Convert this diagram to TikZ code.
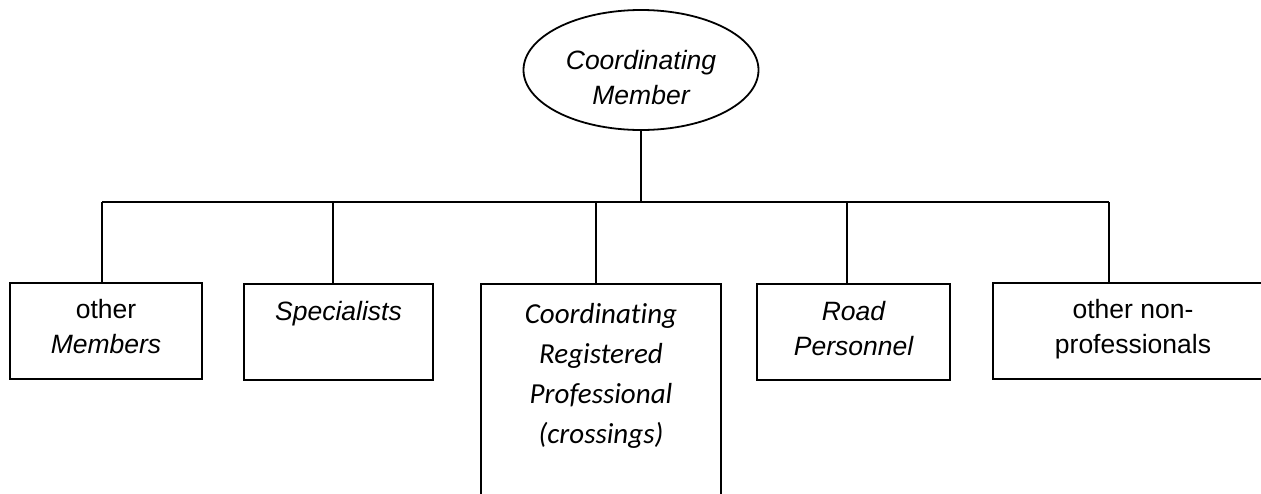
\documentclass[tikz,border=0pt]{standalone}
\usepackage{fontspec}
\setmainfont{Liberation Sans}
\newfontfamily\calfont[Ligatures={NoCommon}]{Carlito}
\usetikzlibrary{shapes.geometric,calc}
\begin{document}
\begin{tikzpicture}[x=1pt,y=-1pt,
  line/.style={line width=1.8pt},
  box/.style={draw, line width=1.8pt, inner sep=0pt, outer sep=0pt, anchor=north west},
  lbl/.style={anchor=north, inner sep=0pt, align=center, font=\fontsize{26.5}{35}\selectfont},
  cal/.style={anchor=north, inner sep=0pt, align=center, font=\calfont\fontsize{29}{40}\selectfont}]
\useasboundingbox (0,0) rectangle (1261,493);
% top ellipse
\node[draw, ellipse, line width=1.8pt, inner sep=0pt, minimum width=235, minimum height=120] (cm) at (641,70) {};
\node[lbl] (cmt) at (641,44.5) {\strut\itshape Coordinating\\\itshape Member};
% boxes
\node[box, minimum width=192, minimum height=96] (b1) at (10,283) {};
\node[box, minimum width=189, minimum height=96] (b2) at (244,284) {};
\node[box, minimum width=240, minimum height=240] (b3) at (481,284) {};
\node[box, minimum width=193, minimum height=96] (b4) at (757,284) {};
\node[box, minimum width=280, minimum height=96] (b5) at (993,283) {};
% labels
\node[lbl] (t1) at (106,294) {\strut other\\\itshape Members};
\node[lbl] (t2) at (338.5,296) {\strut\itshape Specialists};
\node[cal] (t3) at (601,295) {\strut\itshape Coordinating\\\itshape Registered\\\itshape Professional\\\itshape (crossings)};
\node[lbl] (t4) at (853.5,295.5) {\strut\itshape Road\\\itshape Personnel};
\node[lbl] (t5) at (1133,294) {\strut other non-\\professionals};
% bus
\coordinate (d1) at (102,202);
\coordinate (d2) at (333,202);
\coordinate (d3) at (596,202);
\coordinate (d4) at (847,202);
\coordinate (d5) at (1109,202);
\draw[line] (d1) -- (d5);
\draw[line] (cm.south) -- (cm.south |- d1);
\draw[line] (d1) -- (d1 |- b1.north);
\draw[line] (d2) -- (d2 |- b2.north);
\draw[line] (d3) -- (d3 |- b3.north);
\draw[line] (d4) -- (d4 |- b4.north);
\draw[line] (d5) -- (d5 |- b5.north);
\end{tikzpicture}
\end{document}
